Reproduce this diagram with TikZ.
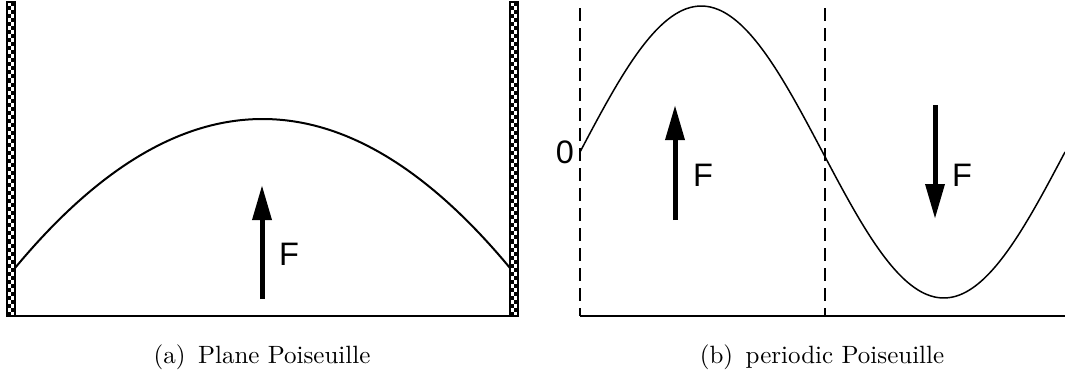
\documentclass[tikz,border=0pt]{standalone}
\usepackage{fontspec}
\newfontfamily\labelfont{Liberation Sans}
\usetikzlibrary{arrows.meta}
\begin{document}
\begin{tikzpicture}[x=0.4pt,y=-0.4pt,
  curve/.style={line width=0.8pt},
  thincurve/.style={line width=0.6pt},
  baseline/.style={line width=1pt},
  guide/.style={line width=0.5pt, dash pattern=on 5.2pt off 2.8pt},
  force/.style={line width=2pt, -{Triangle[width=7.4pt,length=14pt]}},
  flabel/.style={font=\labelfont\fontsize{13}{15}\selectfont, inner sep=0pt},
  caption/.style={font=\fontsize{10}{12}\selectfont, inner sep=0pt}]
\useasboundingbox (0,0) rectangle (1065,381);
% walls
\foreach \wx in {7,510}{
  \foreach \i in {0,...,77}{
    \pgfmathsetmacro{\ya}{2+\i*4.025}
    \pgfmathsetmacro{\yb}{2+(\i+1)*4.025}
    \ifodd\i
      \fill[black] (\wx,\ya) rectangle (\wx+4,\yb);
    \else
      \fill[black] (\wx+4,\ya) rectangle (\wx+8,\yb);
    \fi
  }
  \draw[line width=0.5pt] (\wx,2) rectangle (\wx+8,316);
}
% left panel
\coordinate (la) at (15,316);
\coordinate (lb) at (510,316);
\draw[baseline] (la) -- (lb);
\draw[curve] plot[domain=15:510, samples=80, smooth] (\x,{119+149*((\x-262.5)/247.5)^2});
\coordinate (f1s) at (262,299);
\coordinate (f1e) at (262,185);
\draw[force] (f1s) -- (f1e);
\node[flabel] (F1) at (289,254) {F};
\node[caption] (capa) at (262,357) {(a)\enspace Plane Poiseuille};
% right panel
\coordinate (ra) at (580,316);
\coordinate (rb) at (1065,316);
\draw[baseline] (ra) -- (rb);
\coordinate (d1t) at (580,8);
\coordinate (d2t) at (825,8);
\coordinate (d2b) at (825,316);
\draw[guide] (d1t) -- (ra);
\draw[guide] (d2t) -- (d2b);
\draw[thincurve] plot[domain=580:1065, samples=120, smooth] (\x,{152-146*sin(0.742268*(\x-580))});
\node[flabel] (zero) at (565,152) {0};
\coordinate (f2s) at (675,220);
\coordinate (f2e) at (675,105);
\draw[force] (f2s) -- (f2e);
\node[flabel] (F2) at (703,175) {F};
\coordinate (f3s) at (935,105);
\coordinate (f3e) at (935,219);
\draw[force] (f3s) -- (f3e);
\node[flabel] (F3) at (962,175) {F};
\node[caption] (capb) at (822,357) {(b)\enspace periodic Poiseuille};
\end{tikzpicture}
\end{document}
